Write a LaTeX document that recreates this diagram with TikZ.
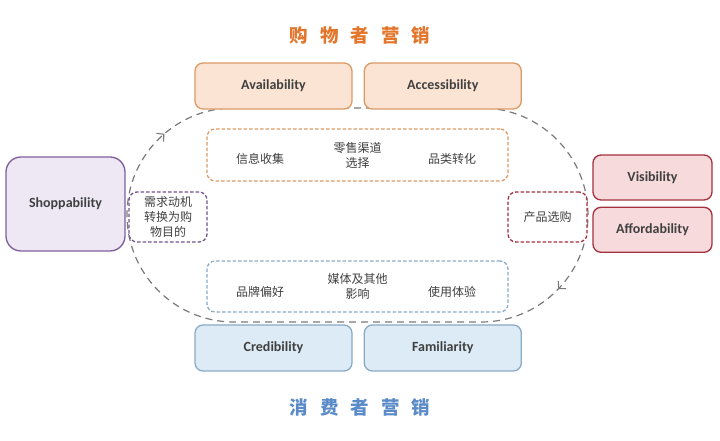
\documentclass[tikz,border=0pt]{standalone}
\usepackage{fontspec}
\setmainfont{Carlito}
\newfontfamily\cjk{Noto Sans CJK SC}
\usetikzlibrary{positioning,arrows.meta,decorations.markings}

\definecolor{txtgray}{HTML}{404040}
\definecolor{orgline}{HTML}{DB9A66}
\definecolor{orgfill}{HTML}{FBE4D3}
\definecolor{orgtitle}{HTML}{E2762C}
\definecolor{blueline}{HTML}{8AABC6}
\definecolor{bluefill}{HTML}{DCEBF5}
\definecolor{bluetitle}{HTML}{5A8BC8}
\definecolor{purline}{HTML}{7D5E9C}
\definecolor{purfill}{HTML}{EEE8F5}
\definecolor{redline}{HTML}{A3313E}
\definecolor{redfill}{HTML}{F7DADC}
\definecolor{loopgray}{HTML}{7A7A7A}

\begin{document}
\begin{tikzpicture}[x=1pt, y=1pt, semithick, >={Straight Barb[length=5pt,width=11pt]},
  factor/.style={draw, rectangle, rounded corners=8pt, line width=1.3pt, text=txtgray,
    minimum width=157pt, minimum height=46pt, font=\bfseries\fontsize{14}{16}\selectfont},
  stage/.style={draw, rectangle, rounded corners=8pt, line width=1.3pt, fill=white,
    dash pattern=on 3.5pt off 2pt},
  cjktext/.style={text=txtgray, align=center, font=\cjk\fontsize{12}{15}\selectfont},
  title/.style={font=\cjk\bfseries\fontsize{18.5}{20}\selectfont}]
  \useasboundingbox (0,0) rectangle (720,441);

  % the loop round the stages
  \coordinate (lc) at (234,226);
  \coordinate (rc) at (481,226);
  \draw[loopgray, line width=1.2pt, dash pattern=on 7pt off 5pt, postaction={decorate},
    decoration={markings,
      mark=at position 0.426 with {\pgfsetdash{}{0pt}\arrow[line width=1.1pt]{>}},
      mark=at position 0.935 with {\pgfsetdash{}{0pt}\arrow[line width=1.1pt]{>}}}]
    ([yshift=107pt]lc) -- ([yshift=107pt]rc) arc[start angle=90, end angle=-90, radius=107pt]
    -- ([yshift=-107pt]lc) arc[start angle=270, end angle=90, radius=107pt] -- cycle;

  \node[title, text=orgtitle] (shopper) at (360,406)
    {购\hspace{12pt}物\hspace{12pt}者\hspace{12pt}营\hspace{12pt}销};
  \node[title, text=bluetitle] (consumer) at (360,34)
    {消\hspace{12pt}费\hspace{12pt}者\hspace{12pt}营\hspace{12pt}销};

  \node[factor, draw=orgline, fill=orgfill] (avail) at (273.5,355) {Availability};
  \node[factor, draw=orgline, fill=orgfill, right=11pt of avail] (access) {Accessibility};
  \node[factor, draw=blueline, fill=bluefill] (cred) at (273.5,93) {Credibility};
  \node[factor, draw=blueline, fill=bluefill, right=11pt of cred] (famil) {Familiarity};

  \node[factor, draw=purline, fill=purfill, rounded corners=15pt, minimum width=119pt,
    minimum height=94pt] (shop) at (65.5,237) {Shoppability};
  \node[factor, draw=redline, fill=redfill, minimum width=119pt, minimum height=45pt]
    (vis) at (652.5,263.5) {Visibility};
  \node[factor, draw=redline, fill=redfill, minimum width=119pt, minimum height=45pt,
    below=6pt of vis] (afford) {Affordability};

  \node[stage, draw=purline!90!black, minimum width=78pt, minimum height=50pt,
    cjktext] (need) at (168,224) {需求动机\\转换为购\\物目的};
  \node[stage, draw=redline, minimum width=79pt, minimum height=50pt,
    cjktext] (buy) at (547.5,224) {产品选购};

  \node[stage, draw=orgline, minimum width=301pt, minimum height=52pt] (search) at (357.5,286) {};
  \node[cjktext] (info) at ([xshift=-97.5pt, yshift=-4pt]search.center) {信息收集};
  \node[cjktext] (channel) at (search.center) {零售渠道\\选择};
  \node[cjktext] (category) at ([xshift=94.5pt, yshift=-4pt]search.center) {品类转化};

  \node[stage, draw=blueline, minimum width=301pt, minimum height=51pt] (brand) at (357.5,154.5) {};
  \node[cjktext] (pref) at ([xshift=-97.5pt, yshift=-5pt]brand.center) {品牌偏好};
  \node[cjktext] (media) at (brand.center) {媒体及其他\\影响};
  \node[cjktext] (usage) at ([xshift=94.5pt, yshift=-5pt]brand.center) {使用体验};
\end{tikzpicture}
\end{document}
